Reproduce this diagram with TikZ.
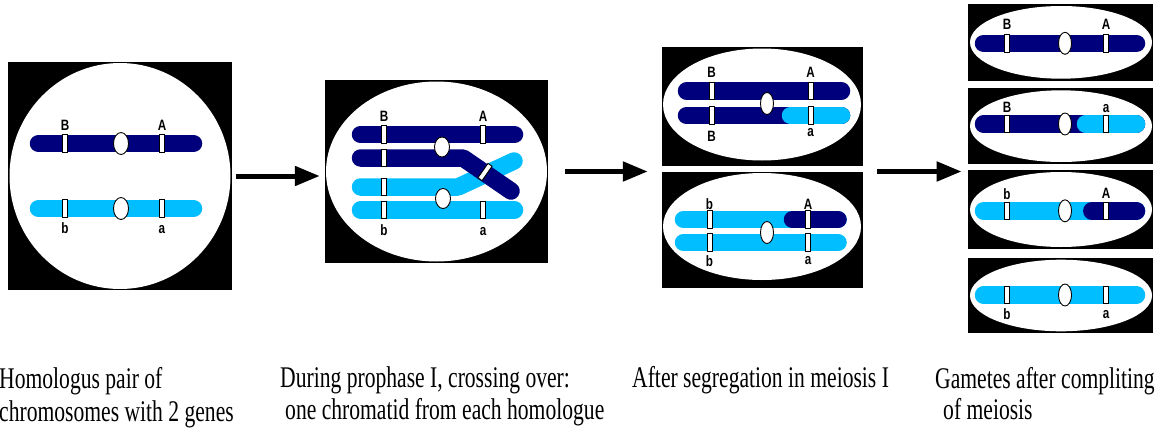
\documentclass[tikz,border=0pt]{standalone}
\usepackage{fontspec}
\setmainfont{Liberation Serif}
\setsansfont{Liberation Sans}
\usepackage{graphicx}
\usepackage{tikz}
\usetikzlibrary{arrows.meta,positioning,shapes.geometric,calc}

\definecolor{chrdark}{RGB}{0,0,125}
\definecolor{chrlight}{RGB}{0,190,255}

% narrow lettering for captions and gene names
\newcommand{\capline}[1]{\scalebox{0.72}[1]{#1}}
\newcommand{\gname}[1]{\scalebox{0.78}[1]{#1}}

\tikzset{
  panel/.style={rectangle,fill=black,inner sep=0pt},
  cell/.style={ellipse,fill=white,inner sep=0pt},
  chrom/.style={line width=17.5pt,line cap=round,line join=round},
  band/.style={rectangle,draw=black,fill=white,line width=0.9pt,minimum width=5pt,minimum height=17.5pt,inner sep=0pt},
  centro/.style={ellipse,draw=black,fill=white,line width=0.9pt,minimum width=14pt,minimum height=21pt,inner sep=0pt},
  gene/.style={font=\fontsize{15}{15}\selectfont\bfseries\sffamily,anchor=base,inner sep=0pt},
  capt/.style={font=\fontsize{30}{33}\selectfont,anchor=base west,inner sep=0pt},
  flow/.style={line width=5pt,-{Triangle[length=25pt,width=19pt]}},
}

\begin{document}
\begin{tikzpicture}[x=1pt,y=-1pt]
\useasboundingbox (0,0) rectangle (1172,434);

% homologous pair
\node[panel,minimum width=224pt,minimum height=228pt] (p1) at (120,176) {};
\node[cell,minimum width=221pt,minimum height=226pt] (c1) at (p1) {};
\draw[chrom,chrdark] (38.5,143.5) -- (193.5,143.5);
\draw[chrom,chrlight] (38.5,208.5) -- (193.5,208.5);
\foreach \y [count=\i] in {143.5,208.5} {
  \node[centro,minimum width=15pt,minimum height=22pt] (p1m\i) at (121,\y) {};
  \node[band] (p1l\i) at (65,\y) {};
  \node[band] (p1r\i) at (162,\y) {};
}
\node[gene] (p1B) at (65,130) {\gname{B}};
\node[gene] (p1A) at (162,130) {\gname{A}};
\node[gene] (p1b) at (65,233) {\gname{b}};
\node[gene] (p1a) at (162,233) {\gname{a}};

% crossing over
\node[panel,minimum width=223pt,minimum height=183pt] (p2) at (436.5,171.5) {};
\node[cell,minimum width=221pt,minimum height=180pt] (c2) at (p2) {};
\draw[chrom,chrlight] (360.5,187) -- (458,187) -- (514,161);
\draw[chrom,chrlight] (360.5,210) -- (514.5,210);
\draw[chrom,chrdark] (360.5,134.5) -- (514.5,134.5);
\draw[chrom,chrdark] (360.5,158) -- (463,158) -- (511,191);
\node[centro,minimum width=15pt,minimum height=20pt] (p2m1) at (442,147) {};
\node[centro,minimum width=15pt,minimum height=20pt] (p2m2) at (443,198.5) {};
\foreach \y [count=\i] in {134.5,158,187,210}
  \node[band] (p2l\i) at (384,\y) {};
\node[band] (p2r1) at (483,134.5) {};
\node[band] (p2r4) at (483,210) {};
\node[band,rotate=-35] (p2x) at (485,172) {};
\node[gene] (p2B) at (384,121.5) {\gname{B}};
\node[gene] (p2A) at (483,121.5) {\gname{A}};
\node[gene] (p2b) at (384,235) {\gname{b}};
\node[gene] (p2a) at (483,235) {\gname{a}};

% after meiosis I
\node[panel,minimum width=201pt,minimum height=119pt] (p3a) at (762.5,106.5) {};
\node[cell,minimum width=198pt,minimum height=112pt] (c3a) at (762,104.5) {};
\draw[chrom,chrdark] (686.5,91) -- (841.5,91);
\draw[chrom,chrdark] (686.5,115.5) -- (841.5,115.5);
\draw[chrom,chrlight] (790.5,115.5) -- (841.5,115.5);
\node[centro,minimum width=13pt,minimum height=22pt] (p3am) at (767,103.5) {};
\foreach \y [count=\i] in {91,115.5} {
  \node[band] (p3al\i) at (711.5,\y) {};
  \node[band] (p3ar\i) at (810.5,\y) {};
}
\node[gene] (p3aB) at (711.5,77.5) {\gname{B}};
\node[gene] (p3aA) at (810.5,77.5) {\gname{A}};
\node[gene] (p3aB2) at (711.5,141.5) {\gname{B}};
\node[gene] (p3aa) at (810.5,136.5) {\gname{a}};

\node[panel,minimum width=201pt,minimum height=116pt] (p3b) at (762.5,230) {};
\node[cell,minimum width=198pt,minimum height=107pt] (c3b) at (762,226.5) {};
\draw[chrom,chrlight] (683.5,219.5) -- (838,219.5);
\draw[chrom,chrdark] (792.5,219.5) -- (838,219.5);
\draw[chrom,chrlight] (683.5,242.5) -- (838,242.5);
\node[centro,minimum width=13pt,minimum height=22pt] (p3bm) at (767,232.5) {};
\foreach \y [count=\i] in {219.5,242.5} {
  \node[band] (p3bl\i) at (709.5,\y) {};
  \node[band] (p3br\i) at (808,\y) {};
}
\node[gene] (p3bb) at (709.5,209.5) {\gname{b}};
\node[gene] (p3bA) at (808,209.5) {\gname{A}};
\node[gene] (p3bb2) at (709.5,266.5) {\gname{b}};
\node[gene] (p3ba) at (808,264) {\gname{a}};

% gametes
\foreach \i/\cy/\h/\by/\col in {1/42.35/76.7/43.3/chrdark,2/126.15/75.7/124/chrdark,
                                3/209.5/79/210.8/chrlight,4/295.5/75.6/295/chrlight} {
  \node[panel,minimum width=184.4pt,minimum height=\h pt] (p4\i) at (1060.5,\cy) {};
  \node[cell,minimum width=182pt,minimum height=\h pt-4pt] (c4\i) at (1061,\cy) {};
  \draw[chrom,\col] (983.5,\by) -- (1136.5,\by);
}
\draw[chrom,chrlight] (1085.5,124) -- (1136.5,124);
\draw[chrom,chrdark] (1091.8,210.8) -- (1136.5,210.8);
\foreach \by [count=\i] in {43.3,124,210.8,295} {
  \node[centro,minimum width=13pt,minimum height=22pt] (g\i m) at (1065,\by) {};
  \node[band] (g\i l) at (1007,\by) {};
  \node[band] (g\i r) at (1106,\by) {};
}
\node[gene] (g1B) at (1007,29.3) {\gname{B}};
\node[gene] (g1A) at (1106,29.3) {\gname{A}};
\node[gene] (g2B) at (1007,112) {\gname{B}};
\node[gene] (g2a) at (1106,112) {\gname{a}};
\node[gene] (g3b) at (1007,199) {\gname{b}};
\node[gene] (g3A) at (1106,198.5) {\gname{A}};
\node[gene] (g4b) at (1007,319) {\gname{b}};
\node[gene] (g4a) at (1106,318) {\gname{a}};

% steps
\draw[flow] ([xshift=4pt]p1.east) -- ([xshift=-5pt]p1.east -| p2.west);
\draw[flow] ([xshift=17pt]p2.east) -- ([xshift=-14pt]p2.east -| p3a.west);
\draw[flow] ([xshift=14pt]p2.east -| p3a.east) -- ([xshift=-6.5pt]p2.east -| p43.west);

% captions
\node[capt] (t1a) at (-1,388) {\capline{Homologus pair of}};
\node[capt] (t1b) at (-1,421) {\capline{chromosomes with 2 genes}};
\node[capt] (t2a) at (280,387) {\capline{During prophase I, crossing over:}};
\node[capt] (t2b) at (285,419) {\capline{one chromatid from each homologue}};
\node[capt] (t3) at (632,387) {\capline{After segregation in meiosis I}};
\node[capt] (t4a) at (935,388) {\capline{Gametes after compliting}};
\node[capt] (t4b) at (943,419) {\capline{of meiosis}};
\end{tikzpicture}
\end{document}
